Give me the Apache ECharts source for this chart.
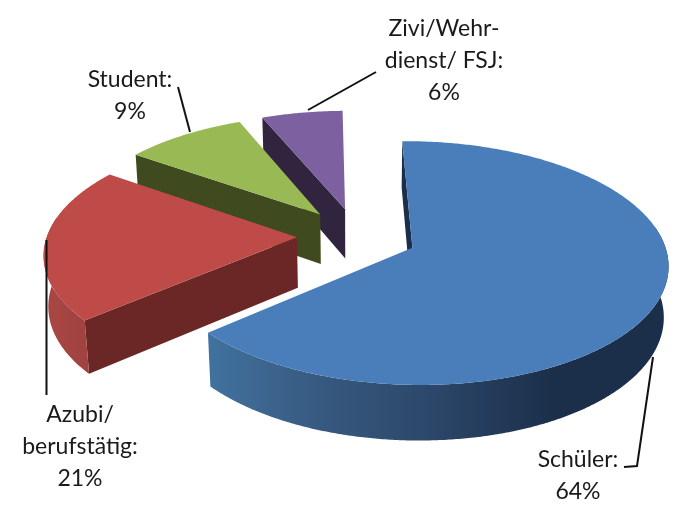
<!DOCTYPE html>
<html>
<head>
<meta charset="utf-8">
<style>
  html, body { margin: 0; padding: 0; background: #fff; }
  #main { width: 686px; height: 510px; }
</style>
</head>
<body>
<div id="main"></div>
<script src="https://cdn.jsdelivr.net/npm/echarts@6/dist/echarts.min.js"></script>
<script>
var categories = ['Schüler:', 'Azubi/\nberufstätig:', 'Student:', 'Zivi/Wehr-\ndienst/ FSJ:'];
var shares = [64, 21, 9, 6];

var topColors = ['#4a7ebb', '#be4b48', '#98b954', '#7d60a0'];
var wallColors = ['#1b2f4a', '#6b2725', '#3f4a1f', '#31243f'];
var rimStops = [
  [[0, '#41729f'], [0.25, '#37597f'], [0.5, '#2b4668'], [0.75, '#1b2f4a'], [1, '#1b2f4a']],
  [[0, '#aa4744'], [1, '#9f4240']],
  [[0, '#3f4a1f'], [1, '#3f4a1f']],
  [[0, '#31243f'], [1, '#31243f']]
];

// perspective of the tilted disc, fitted by eye
var cam = { cx: 357, cy: 236, r: 250, tilt: 0.468, k: 0.125, depth: 51, m: 0.015 };
var startAngle = -1;
var explode = 0.24;

// text blocks and leader lines, same order as categories
var labelPos = [[578, 444], [80, 399], [130, 64], [444, 13]];
var leaders = [
  [[653, 357], [637, 466], [624, 467]],
  [[46.5, 240], [46.5, 395]],
  [[178, 87], [190, 132]],
  [[308, 110], [376, 72]]
];

var total = shares.reduce(function (a, b) { return a + b; }, 0);

function project(x, y, z) {
  var s = 1 - cam.k * y + cam.m * z;
  return [cam.cx + cam.r * x / s, cam.cy + (cam.r * cam.tilt * y + cam.depth * z) / s];
}

function dir(deg) {
  var a = deg * Math.PI / 180;
  return [Math.sin(a), -Math.cos(a)];
}

function area(pts) {
  var sum = 0;
  for (var i = 0; i < pts.length; i++) {
    var p = pts[i], q = pts[(i + 1) % pts.length];
    sum += p[0] * q[1] - q[0] * p[1];
  }
  return sum / 2;
}

function arc(ox, oy, from, to, z) {
  var pts = [];
  var n = Math.max(2, Math.ceil((to - from) * 2));
  for (var i = 0; i <= n; i++) {
    var d = dir(from + (to - from) * i / n);
    pts.push(project(ox + d[0], oy + d[1], z));
  }
  return pts;
}

function polygon(pts, fill, z2) {
  return { type: 'polygon', z2: z2, silent: true, shape: { points: pts }, style: { fill: fill } };
}

function renderItem(params, api) {
  var i = params.dataIndex;
  var before = 0;
  for (var j = 0; j < i; j++) before += shares[j];
  var from = startAngle + before / total * 360;
  var to = startAngle + (before + api.value(0)) / total * 360;
  var mid = dir((from + to) / 2);
  var ox = mid[0] * explode, oy = mid[1] * explode;
  var base = (categories.length - i) * 10;
  var children = [];

  // radial walls, only the ones turned to the viewer
  var d1 = dir(from), d2 = dir(to);
  var w1 = [project(ox + d1[0], oy + d1[1], 0), project(ox, oy, 0), project(ox, oy, 1), project(ox + d1[0], oy + d1[1], 1)];
  var w2 = [project(ox, oy, 0), project(ox + d2[0], oy + d2[1], 0), project(ox + d2[0], oy + d2[1], 1), project(ox, oy, 1)];
  if (area(w1) > 0) children.push(polygon(w1, wallColors[i], base));
  if (area(w2) > 0) children.push(polygon(w2, wallColors[i], base));

  // outer rim, front half only
  var a = Math.max(from, 80), b = Math.min(to, 280);
  if (b > a) {
    var rim = arc(ox, oy, a, b, 0).concat(arc(ox, oy, a, b, 1).reverse());
    children.push({
      type: 'polygon', z2: base + 1, silent: true,
      shape: { points: rim },
      style: {
        fill: new echarts.graphic.LinearGradient(0, 0, 1, 0, rimStops[i].map(function (s) {
          return { offset: s[0], color: s[1] };
        }))
      }
    });
  }

  // top face
  var top = [project(ox, oy, 0)].concat(arc(ox, oy, from, to, 0));
  children.push(polygon(top, topColors[i], base + 2));

  // leader and label
  children.push({
    type: 'polyline', z2: 100, silent: true,
    shape: { points: leaders[i] },
    style: { stroke: '#111', lineWidth: 2, fill: null }
  });
  children.push({
    type: 'text', z2: 100, silent: true,
    style: {
      x: labelPos[i][0], y: labelPos[i][1],
      text: categories[i] + '\n' + shares[i] + '%',
      align: 'center', verticalAlign: 'top',
      fontFamily: 'Lato', fontSize: 23, lineHeight: 32, fill: '#1a1a1a'
    }
  });
  return { type: 'group', children: children };
}

var chart = echarts.init(document.getElementById('main'), null, { renderer: 'canvas' });
chart.setOption({
  backgroundColor: '#ffffff',
  animation: false,
  series: [{
    type: 'custom',
    coordinateSystem: 'none',
    renderItem: renderItem,
    data: shares.map(function (v) { return [v]; })
  }]
});
</script>
</body>
</html>
